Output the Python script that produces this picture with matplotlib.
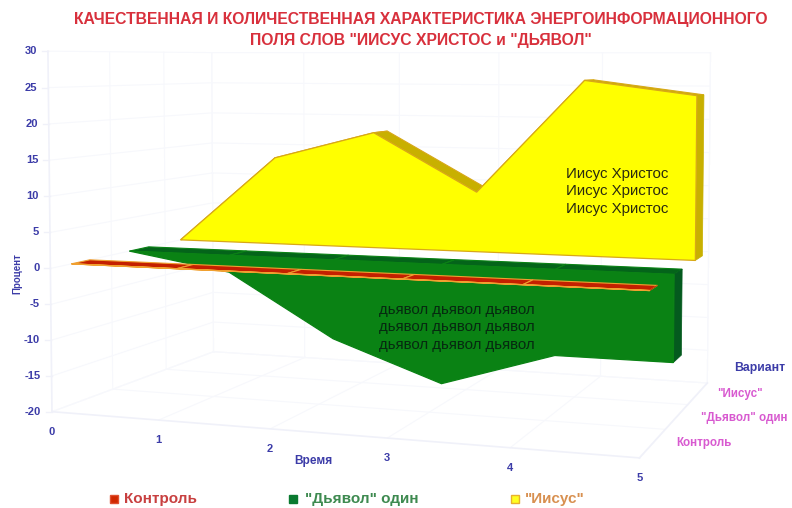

# 3D area chart drawn on a flat axes with a perspective projection
import numpy as np
import matplotlib
matplotlib.use("Agg")
from matplotlib import pyplot as plt
from matplotlib.patches import Polygon, Rectangle

# data
time = [0, 1, 2, 3, 4, 5]
control = [0, 0, 0, 0, 0, 0]
devil = [0, -2.5, -11.5, -17, -12, -12]
jesus = [0, 13.5, 17.7, 9, 25.9, 23.8]
y_ticks = [-20, -15, -10, -5, 0, 5, 10, 15, 20, 25, 30]
variants = ['Контроль', '"Дьявол" один', '"Иисус"']
title = 'КАЧЕСТВЕННАЯ И КОЛИЧЕСТВЕННАЯ ХАРАКТЕРИСТИКА ЭНЕРГОИНФОРМАЦИОННОГО\nПОЛЯ СЛОВ "ИИСУС ХРИСТОС и "ДЬЯВОЛ"'

plt.rcParams['font.family'] = ['Liberation Sans', 'DejaVu Sans']
BLUE = '#3c3ca8'
MAGENTA = '#d85ad0'
GRID = '#f7f8fc'
FRAME = '#f0f1f9'

# calibration of the box: (time, depth, value) -> picture position
world = np.array([[0, 0, -20], [5, 0, -20], [5, 1, -20], [0, 1, -20],
                  [0, 0, 30], [5, 1, 30], [0, 1, 30], [5, 0, 30]], float)
screen = np.array([[52, 410], [643, 458], [705, 383], [213, 353],
                   [47, 52], [712, 52], [213, 52], [640, 52]], float)
rows = []
for (a, b, c), (u, v) in zip(world, screen):
    rows.append([a, b, c, 1, 0, 0, 0, 0, -u*a, -u*b, -u*c, -u])
    rows.append([0, 0, 0, 0, a, b, c, 1, -v*a, -v*b, -v*c, -v])
P = np.linalg.svd(np.array(rows))[2][-1].reshape(3, 4)


def proj(t, d, v):
    q = P @ np.array([t, d, v, 1.0])
    return q[0]/q[2], q[1]/q[2]


fig = plt.figure(figsize=(7.92, 5.08), dpi=100)
ax = fig.add_axes([0, 0, 1, 1])
ax.set_xlim(0, 792)
ax.set_ylim(508, 0)
ax.axis('off')


def line(p0, p1, color=GRID, lw=0.8):
    ax.plot([p0[0], p1[0]], [p0[1], p1[1]], color=color, lw=lw, zorder=1)


# walls and floor
for v in y_ticks:
    line(proj(0, 0, v), proj(0, 1, v))
    line(proj(0, 1, v), proj(5, 1, v))
for t in time:
    line(proj(t, 1, -20), proj(t, 1, 30))
    line(proj(t, 0, -20), proj(t, 1, -20))
for d in [1/3, 2/3, 1]:
    line(proj(0, d, -20), proj(0, d, 30))
    line(proj(0, d, -20), proj(5, d, -20))
line(proj(5, 1, -20), proj(5, 1, 30))
line(proj(0, 0, -20), proj(0, 0, 30), FRAME, 1.2)
line(proj(0, 0, -20), proj(5, 0, -20), FRAME, 1.2)
line(proj(5, 0, -20), proj(5, 1, -20), FRAME, 1.2)


def area(values, d0, d1, front, top, side, edge, z):
    # one extruded band: top faces, end face, then the front face over them
    n = len(time)
    for i in range(n - 1):
        a, b = values[i], values[i+1]
        if a >= 0 and b >= 0:
            shade = side if b < a - 1 else top
        else:
            a, b = 0, 0
            shade = top
        quad = [proj(time[i], d0, a), proj(time[i+1], d0, b),
                proj(time[i+1], d1, b), proj(time[i], d1, a)]
        ax.add_patch(Polygon(quad, fc=shade, ec=edge, lw=0.8, zorder=z))
    last = values[-1]
    ax.add_patch(Polygon([proj(time[-1], d0, 0), proj(time[-1], d1, 0),
                          proj(time[-1], d1, last), proj(time[-1], d0, last)],
                         fc=side, ec=side, lw=0.5, zorder=z))
    outline = [proj(t, d0, v) for t, v in zip(time, values)]
    outline += [proj(time[-1], d0, 0), proj(time[0], d0, 0)]
    ax.add_patch(Polygon(outline, fc=front, ec=edge, lw=0.9, zorder=z+0.5))


area(jesus, 0.77, 0.89, '#ffff00', '#c8b000', '#c8b000', '#d8a818', 3)
area(devil, 0.44, 0.56, '#0a8214', '#04641a', '#045a1e', '#0a8214', 4)
area(control, 0.11, 0.21, '#c42000', '#c42000', '#a01800', '#f0a030', 5)

# y axis
for v in y_ticks:
    x, y = proj(0, 0, v)
    ax.text(x - 11, y, str(v), ha='right', va='center', fontsize=8, fontweight='bold', color=BLUE)
    line((x - 6, y), (x, y), FRAME, 1)
ax.text(17, 274, 'Процент', rotation=90, ha='center', va='center', fontsize=7, fontweight='bold', color=BLUE)

# x axis
for t in time:
    x, y = proj(t, 0, -20)
    ax.text(x, y + 20, str(t), ha='center', va='center', fontsize=8, fontweight='bold', color=BLUE)
ax.text(313, 461, 'Время', ha='center', va='center', fontsize=8.6, fontweight='bold', color=BLUE)

# depth axis
ax.text(760, 368, 'Вариант', ha='center', va='center', fontsize=8.8, fontweight='bold', color=BLUE)
for name, x, y in zip(variants, [704, 744, 740], [443, 418, 394]):
    ax.text(x, y, name, ha='center', va='center', fontsize=8.4, fontweight='bold', color=MAGENTA)

# text on the bands
for i in range(3):
    ax.text(617, 174 + i*17.5, 'Иисус Христос', ha='center', va='center', fontsize=10.8, color='#2a2a10', zorder=9)
    ax.text(457, 310 + i*17.5, 'дьявол дьявол дьявол', ha='center', va='center', fontsize=10.8, color='#062a10', zorder=9)

# legend
legend = [('#d02800', '#e05030', 110, 124, '#c84040', variants[0]),
          ('#0a7a30', '#0a7a30', 289, 305, '#3e8a50', variants[1]),
          ('#ffff20', '#e8b030', 511, 525, '#d89050', variants[2])]
for fc, ec, xs, xt, tc, name in legend:
    ax.add_patch(Rectangle((xs, 495), 8, 8, fc=fc, ec=ec, lw=1))
    ax.text(xt, 499, name, ha='left', va='center', fontsize=11, fontweight='bold', color=tc)

ax.text(421, 30, title, ha='center', va='center', fontsize=11.3, fontweight='bold',
        color='#d8303c', linespacing=1.5)

fig.savefig('out.png', dpi=100)
